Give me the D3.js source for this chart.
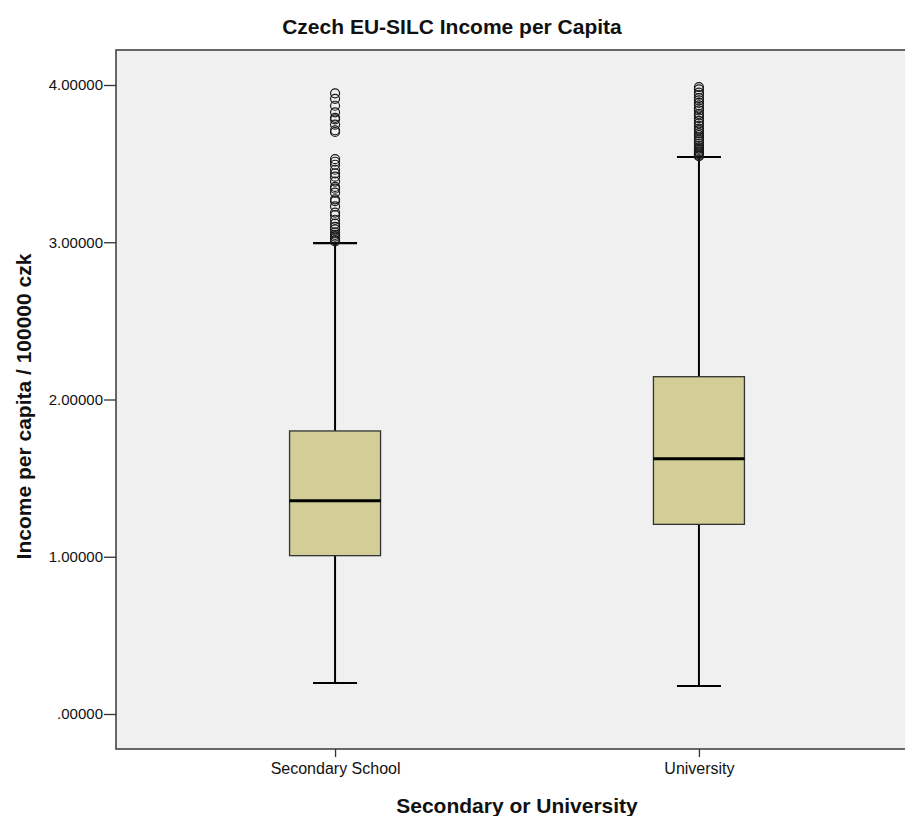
<!DOCTYPE html>
<html>
<head>
<meta charset="utf-8">
<script src="https://cdn.jsdelivr.net/npm/d3@7"></script>
<style>
  html, body { margin: 0; padding: 0; background: #ffffff; }
  svg { display: block; }
  text { font-family: Arial, "Liberation Sans", sans-serif; fill: #111; }
</style>
</head>
<body>
<svg id="chart" width="905" height="816"></svg>
<script>
// Five-number summaries per education group (income per capita / 100000 czk)
const categories = ["Secondary School", "University"];
const whiskerLow = [0.197, 0.178];
const q1 = [1.007, 1.206];
const median = [1.356, 1.624];
const q3 = [1.800, 2.145];
const whiskerHigh = [2.995, 3.542];

// Outlying observations above the upper whisker
const outliersSecondary = [3.947, 3.912, 3.868, 3.826, 3.791, 3.782, 3.748, 3.712, 3.701,
  3.528, 3.512, 3.493, 3.461, 3.438, 3.417, 3.386, 3.352, 3.341, 3.315, 3.273, 3.262,
  3.228, 3.189, 3.172, 3.143, 3.118, 3.098, 3.082, 3.061, 3.047, 3.036, 3.024, 3.013, 3.006];
const outliersUniversity = [3.987, 3.972, 3.951, 3.938, 3.917, 3.903, 3.886, 3.871, 3.852,
  3.838, 3.817, 3.806, 3.789, 3.772, 3.756, 3.741, 3.723, 3.712, 3.694, 3.681, 3.667,
  3.652, 3.641, 3.628, 3.614, 3.603, 3.596, 3.587, 3.578, 3.571, 3.563, 3.558, 3.551, 3.547];

const yTicks = [0, 1, 2, 3, 4];

const title = "Czech EU-SILC Income per Capita";
const xTitle = "Secondary or University";
const yTitle = "Income per capita / 100000 czk";

const svg = d3.select("#chart");
const plot = { left: 116, top: 50, right: 918, bottom: 749 };

const x = d3.scalePoint()
  .domain(categories)
  .range([plot.left, plot.right])
  .padding(0.602);

const y = d3.scaleLinear()
  .domain([0, 4])
  .range([714, 85]);

// Plot area
svg.append("rect")
  .attr("x", plot.left).attr("y", plot.top)
  .attr("width", plot.right - plot.left).attr("height", plot.bottom - plot.top)
  .attr("fill", "#f0f0f0")
  .attr("stroke", "#444").attr("stroke-width", 1.6);

// Axes
const yAxis = d3.axisLeft(y)
  .tickValues(yTicks)
  .tickSize(12)
  .tickPadding(1)
  .tickFormat(d => d === 0 ? ".00000" : d3.format(".5f")(d));
const gy = svg.append("g")
  .attr("transform", `translate(${plot.left},0)`)
  .call(yAxis);
gy.select(".domain").remove();
gy.selectAll(".tick line").attr("stroke", "#333").attr("stroke-width", 1.3);
gy.selectAll(".tick text")
  .attr("font-size", 15).attr("fill", "#222")
  .style("font-family", "Arial, 'Liberation Sans', sans-serif");

const xAxis = d3.axisBottom(x).tickSize(8).tickPadding(6);
const gx = svg.append("g")
  .attr("transform", `translate(0,${plot.bottom})`)
  .call(xAxis);
gx.select(".domain").remove();
gx.selectAll(".tick line").attr("stroke", "#333").attr("stroke-width", 1.3);
gx.selectAll(".tick text")
  .attr("font-size", 16).attr("fill", "#222")
  .style("font-family", "Arial, 'Liberation Sans', sans-serif");

// Box plots
const boxW = 91, capW = 44;
const groups = categories.map((c, i) => ({
  c, lo: whiskerLow[i], q1: q1[i], med: median[i], q3: q3[i], hi: whiskerHigh[i],
  out: i === 0 ? outliersSecondary : outliersUniversity
}));

const g = svg.selectAll("g.box").data(groups).join("g").attr("class", "box");

// whisker stems
g.append("line")
  .attr("x1", d => x(d.c)).attr("x2", d => x(d.c))
  .attr("y1", d => y(d.hi)).attr("y2", d => y(d.q3))
  .attr("stroke", "#000").attr("stroke-width", 2);
g.append("line")
  .attr("x1", d => x(d.c)).attr("x2", d => x(d.c))
  .attr("y1", d => y(d.q1)).attr("y2", d => y(d.lo))
  .attr("stroke", "#000").attr("stroke-width", 2);
// caps
g.append("line")
  .attr("x1", d => x(d.c) - capW / 2).attr("x2", d => x(d.c) + capW / 2)
  .attr("y1", d => y(d.hi)).attr("y2", d => y(d.hi))
  .attr("stroke", "#000").attr("stroke-width", 2.2);
g.append("line")
  .attr("x1", d => x(d.c) - capW / 2).attr("x2", d => x(d.c) + capW / 2)
  .attr("y1", d => y(d.lo)).attr("y2", d => y(d.lo))
  .attr("stroke", "#000").attr("stroke-width", 2.2);
// box
g.append("rect")
  .attr("x", d => x(d.c) - boxW / 2)
  .attr("y", d => y(d.q3))
  .attr("width", boxW)
  .attr("height", d => y(d.q1) - y(d.q3))
  .attr("fill", "#d3ce98")
  .attr("stroke", "#333").attr("stroke-width", 1.3);
// median
g.append("line")
  .attr("x1", d => x(d.c) - boxW / 2).attr("x2", d => x(d.c) + boxW / 2)
  .attr("y1", d => y(d.med)).attr("y2", d => y(d.med))
  .attr("stroke", "#000").attr("stroke-width", 3);
// outliers
g.each(function(d) {
  d3.select(this).selectAll("circle")
    .data(d.out)
    .join("circle")
    .attr("cx", x(d.c))
    .attr("cy", v => y(v))
    .attr("r", 4.5)
    .attr("fill", "none")
    .attr("stroke", "#1a1a1a")
    .attr("stroke-width", 1.2);
});

// Titles
svg.append("text")
  .attr("x", 452).attr("y", 34)
  .attr("text-anchor", "middle")
  .attr("font-size", 21).attr("font-weight", "bold")
  .text(title);

svg.append("text")
  .attr("x", (plot.left + plot.right) / 2).attr("y", 813)
  .attr("text-anchor", "middle")
  .attr("font-size", 21).attr("font-weight", "bold")
  .text(xTitle);

svg.append("text")
  .attr("transform", `translate(31,${(plot.top + plot.bottom) / 2 + 7}) rotate(-90)`)
  .attr("text-anchor", "middle")
  .attr("font-size", 21).attr("font-weight", "bold")
  .text(yTitle);
</script>
</body>
</html>
